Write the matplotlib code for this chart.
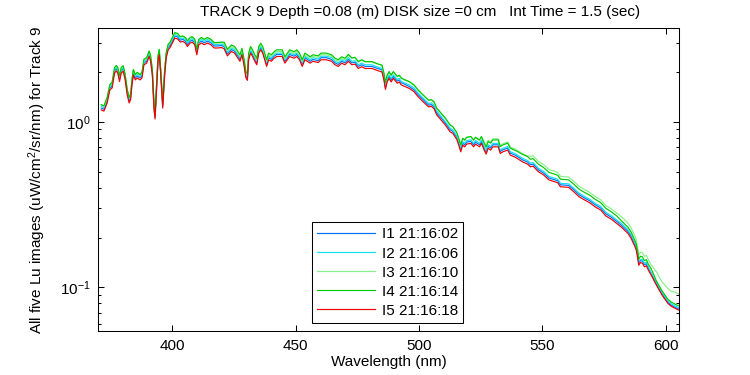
# -*- coding: utf-8 -*-

import matplotlib
matplotlib.use('Agg')
import matplotlib.pyplot as plt
from matplotlib.ticker import NullFormatter, LogLocator

plt.rcParams['font.family'] = ['Liberation Sans', 'DejaVu Sans']
plt.rcParams['mathtext.default'] = 'regular'

#---- wavelengths (nm) ----#
wl = [371.3, 372.4, 373.7, 374.8, 375.7, 376.7, 377.4, 378.0, 378.7, 379.4,
      380.2, 381.0, 381.8, 382.6, 383.2, 383.7, 384.3, 385.1, 385.9, 387.0,
      387.8, 388.6, 389.7, 390.7, 391.3, 392.0, 392.7, 393.1, 393.7, 394.3,
      394.8, 395.4, 396.2, 397.0, 397.6, 398.4, 399.2, 400.1, 401.1, 402.2,
      403.3, 404.3, 405.4, 406.2, 407.3, 408.1, 409.2, 410.0, 410.8, 411.9,
      413.0, 414.3, 415.7, 417.1, 418.4, 420.0, 421.1, 422.4, 424.0, 425.3,
      426.7, 427.5, 428.3, 429.1, 429.9, 430.5, 431.0, 431.8, 432.6, 433.5,
      434.3, 435.1, 435.9, 436.7, 437.5, 438.3, 439.1, 440.2, 441.3, 442.4,
      444.6, 445.7, 447.6, 449.4, 450.5, 451.6, 452.7, 453.8, 455.9, 457.0,
      459.2, 460.3, 462.4, 464.6, 466.0, 467.3, 468.7, 470.0, 471.4, 472.8,
      474.1, 475.4, 476.8, 478.2, 480.9, 483.6, 485.0, 485.8, 486.4, 487.1,
      487.9, 488.7, 489.6, 491.2, 492.0, 492.8, 494.4, 496.1, 498.0, 499.6,
      501.7, 503.9, 505.0, 506.1, 507.2, 509.1, 510.7, 512.6, 513.7, 515.3,
      516.1, 516.9, 517.7, 518.5, 519.3, 521.0, 522.1, 522.9, 524.5, 525.3,
      526.4, 527.2, 528.0, 529.0, 529.9, 532.1, 532.9, 534.0, 535.9, 537.0,
      539.1, 541.9, 544.0, 545.1, 546.2, 548.4, 550.5, 552.7, 555.1, 556.2,
      557.3, 560.6, 562.7, 564.9, 567.1, 569.2, 571.4, 573.6, 575.7, 577.9,
      580.1, 582.0, 584.6, 585.9, 587.2, 587.9, 588.6, 589.0, 589.7, 590.5,
      591.3, 592.1, 592.9, 594.0, 596.2, 598.4, 600.8, 602.1, 603.5, 605.1]

#---- Lu for the five images ----#
lu1 = [1.21, 1.19, 1.34, 1.60, 1.64, 2.03, 2.09, 2.03, 1.80, 2.03,
       2.08, 1.84, 1.50, 1.34, 1.40, 1.69, 1.97, 1.84, 1.89, 1.84,
       1.89, 2.27, 2.32, 2.55, 2.38, 1.97, 1.21, 1.07, 1.60, 2.38,
       2.61, 1.97, 1.24, 1.97, 2.49, 2.80, 2.89, 3.07, 3.29, 3.26,
       3.11, 3.15, 3.07, 2.93, 3.07, 3.11, 3.00, 2.61, 3.00, 3.07,
       3.00, 3.07, 3.00, 2.87, 2.87, 2.89, 2.84, 2.57, 2.73, 2.67,
       2.49, 2.38, 2.61, 2.27, 1.89, 1.83, 2.44, 2.67, 2.55, 2.38,
       2.27, 2.67, 2.80, 2.67, 2.44, 2.22, 2.44, 2.38, 2.49, 2.55,
       2.55, 2.32, 2.55, 2.49, 2.55, 2.44, 2.22, 2.44, 2.32, 2.38,
       2.34, 2.44, 2.44, 2.38, 2.27, 2.22, 2.32, 2.27, 2.38, 2.27,
       2.29, 2.16, 2.21, 2.16, 2.16, 2.09, 2.06, 1.84, 1.61, 1.79,
       1.88, 1.79, 1.88, 1.76, 1.79, 1.72, 1.68, 1.63, 1.56, 1.46,
       1.36, 1.26, 1.27, 1.23, 1.13, 1.05, 0.982, 0.894, 0.875, 0.805,
       0.743, 0.677, 0.743, 0.726, 0.754, 0.762, 0.726, 0.754, 0.726, 0.762,
       0.694, 0.656, 0.710, 0.694, 0.726, 0.726, 0.662, 0.677, 0.694, 0.647,
       0.627, 0.589, 0.571, 0.550, 0.555, 0.513, 0.490, 0.457, 0.446, 0.440,
       0.416, 0.413, 0.389, 0.362, 0.346, 0.333, 0.315, 0.301, 0.278, 0.265,
       0.250, 0.237, 0.218, 0.204, 0.185, 0.175, 0.154, 0.140, 0.145, 0.144,
       0.137, 0.139, 0.131, 0.122, 0.104, 0.0913, 0.0811, 0.0781, 0.0761, 0.0740]

lu2 = [1.24, 1.22, 1.37, 1.64, 1.68, 2.07, 2.13, 2.07, 1.84, 2.07,
       2.12, 1.88, 1.53, 1.37, 1.43, 1.72, 2.02, 1.88, 1.93, 1.88,
       1.93, 2.32, 2.37, 2.60, 2.44, 2.02, 1.24, 1.09, 1.64, 2.44,
       2.67, 2.02, 1.27, 2.02, 2.54, 2.86, 2.95, 3.14, 3.36, 3.33,
       3.18, 3.21, 3.14, 2.99, 3.14, 3.18, 3.07, 2.67, 3.07, 3.14,
       3.07, 3.14, 3.07, 2.93, 2.93, 2.95, 2.90, 2.63, 2.79, 2.73,
       2.54, 2.44, 2.67, 2.32, 1.93, 1.87, 2.49, 2.73, 2.60, 2.44,
       2.32, 2.73, 2.86, 2.73, 2.49, 2.27, 2.49, 2.44, 2.54, 2.60,
       2.60, 2.37, 2.60, 2.54, 2.60, 2.49, 2.27, 2.49, 2.37, 2.44,
       2.39, 2.49, 2.49, 2.44, 2.32, 2.27, 2.37, 2.32, 2.44, 2.32,
       2.34, 2.21, 2.26, 2.21, 2.21, 2.13, 2.10, 1.88, 1.65, 1.83,
       1.92, 1.83, 1.92, 1.80, 1.83, 1.75, 1.71, 1.67, 1.60, 1.49,
       1.39, 1.29, 1.30, 1.26, 1.16, 1.07, 1.00, 0.914, 0.894, 0.822,
       0.759, 0.692, 0.759, 0.741, 0.770, 0.778, 0.741, 0.770, 0.741, 0.778,
       0.709, 0.670, 0.726, 0.709, 0.741, 0.741, 0.676, 0.692, 0.709, 0.660,
       0.641, 0.602, 0.583, 0.562, 0.567, 0.524, 0.501, 0.467, 0.456, 0.449,
       0.425, 0.422, 0.397, 0.370, 0.354, 0.340, 0.321, 0.308, 0.284, 0.271,
       0.255, 0.243, 0.223, 0.208, 0.189, 0.179, 0.158, 0.143, 0.148, 0.147,
       0.140, 0.142, 0.133, 0.123, 0.107, 0.0932, 0.0828, 0.0797, 0.0776, 0.0756]

lu3 = [1.26, 1.24, 1.39, 1.67, 1.72, 2.11, 2.18, 2.11, 1.88, 2.11,
       2.17, 1.92, 1.57, 1.39, 1.46, 1.76, 2.06, 1.92, 1.97, 1.92,
       1.97, 2.37, 2.42, 2.66, 2.49, 2.06, 1.26, 1.11, 1.67, 2.49,
       2.72, 2.06, 1.30, 2.06, 2.59, 2.92, 3.01, 3.21, 3.43, 3.40,
       3.25, 3.28, 3.21, 3.06, 3.21, 3.25, 3.13, 2.72, 3.13, 3.21,
       3.13, 3.21, 3.13, 2.99, 2.99, 3.01, 2.96, 2.68, 2.85, 2.79,
       2.59, 2.49, 2.72, 2.37, 1.97, 1.91, 2.54, 2.79, 2.66, 2.49,
       2.37, 2.79, 2.92, 2.79, 2.54, 2.32, 2.54, 2.49, 2.59, 2.66,
       2.66, 2.42, 2.66, 2.59, 2.66, 2.54, 2.32, 2.54, 2.42, 2.49,
       2.44, 2.54, 2.54, 2.49, 2.37, 2.32, 2.42, 2.37, 2.54, 2.42,
       2.44, 2.30, 2.35, 2.30, 2.30, 2.22, 2.19, 1.96, 1.72, 1.91,
       2.00, 1.91, 2.00, 1.87, 1.91, 1.83, 1.78, 1.74, 1.66, 1.55,
       1.45, 1.35, 1.36, 1.31, 1.20, 1.12, 1.05, 0.953, 0.932, 0.857,
       0.792, 0.722, 0.792, 0.773, 0.803, 0.811, 0.773, 0.803, 0.773, 0.811,
       0.756, 0.715, 0.774, 0.756, 0.791, 0.791, 0.721, 0.738, 0.756, 0.704,
       0.683, 0.642, 0.622, 0.618, 0.624, 0.576, 0.551, 0.514, 0.501, 0.494,
       0.468, 0.464, 0.437, 0.407, 0.389, 0.374, 0.353, 0.338, 0.312, 0.298,
       0.281, 0.267, 0.245, 0.229, 0.208, 0.196, 0.173, 0.157, 0.163, 0.162,
       0.154, 0.156, 0.147, 0.137, 0.124, 0.108, 0.0984, 0.0947, 0.0938, 0.0913]

lu4 = [1.27, 1.25, 1.40, 1.68, 1.73, 2.13, 2.19, 2.13, 1.89, 2.13,
       2.18, 1.93, 1.58, 1.40, 1.47, 1.77, 2.07, 1.93, 1.99, 1.93,
       1.99, 2.39, 2.44, 2.68, 2.51, 2.07, 1.27, 1.12, 1.68, 2.51,
       2.74, 2.07, 1.31, 2.07, 2.61, 2.94, 3.03, 3.23, 3.46, 3.42,
       3.27, 3.30, 3.23, 3.08, 3.23, 3.27, 3.15, 2.74, 3.15, 3.23,
       3.15, 3.23, 3.15, 3.01, 3.01, 3.03, 3.02, 2.74, 2.91, 2.85,
       2.65, 2.54, 2.78, 2.42, 2.01, 1.95, 2.60, 2.85, 2.72, 2.54,
       2.42, 2.85, 2.98, 2.85, 2.60, 2.37, 2.60, 2.54, 2.65, 2.72,
       2.72, 2.47, 2.72, 2.65, 2.72, 2.60, 2.37, 2.60, 2.47, 2.54,
       2.50, 2.60, 2.60, 2.54, 2.42, 2.37, 2.47, 2.42, 2.55, 2.43,
       2.45, 2.31, 2.37, 2.31, 2.31, 2.23, 2.20, 1.97, 1.73, 1.91,
       2.01, 1.91, 2.01, 1.88, 1.91, 1.84, 1.79, 1.75, 1.67, 1.56,
       1.45, 1.35, 1.36, 1.32, 1.21, 1.12, 1.05, 0.957, 0.936, 0.861,
       0.795, 0.725, 0.795, 0.777, 0.806, 0.815, 0.777, 0.806, 0.777, 0.815,
       0.743, 0.702, 0.760, 0.743, 0.777, 0.777, 0.708, 0.725, 0.743, 0.692,
       0.671, 0.636, 0.616, 0.594, 0.599, 0.554, 0.529, 0.494, 0.482, 0.475,
       0.450, 0.446, 0.420, 0.391, 0.374, 0.360, 0.340, 0.325, 0.300, 0.286,
       0.270, 0.252, 0.231, 0.216, 0.196, 0.185, 0.164, 0.148, 0.154, 0.153,
       0.145, 0.147, 0.138, 0.130, 0.109, 0.0954, 0.0848, 0.0816, 0.0795, 0.0774]

lu5 = [1.18, 1.16, 1.30, 1.56, 1.60, 1.97, 2.03, 1.97, 1.75, 1.97,
       2.02, 1.79, 1.46, 1.30, 1.36, 1.64, 1.92, 1.79, 1.84, 1.79,
       1.84, 2.21, 2.26, 2.48, 2.32, 1.92, 1.18, 1.04, 1.56, 2.32,
       2.54, 1.92, 1.21, 1.92, 2.42, 2.72, 2.81, 2.99, 3.20, 3.17,
       3.03, 3.06, 2.99, 2.85, 2.99, 3.03, 2.92, 2.54, 2.92, 2.99,
       2.92, 2.99, 2.92, 2.79, 2.79, 2.81, 2.76, 2.50, 2.66, 2.60,
       2.42, 2.32, 2.54, 2.21, 1.84, 1.78, 2.37, 2.60, 2.48, 2.32,
       2.21, 2.60, 2.72, 2.60, 2.37, 2.16, 2.37, 2.32, 2.42, 2.48,
       2.48, 2.26, 2.48, 2.42, 2.48, 2.37, 2.16, 2.37, 2.26, 2.32,
       2.28, 2.37, 2.37, 2.32, 2.21, 2.16, 2.26, 2.21, 2.32, 2.21,
       2.23, 2.10, 2.15, 2.10, 2.10, 2.03, 2.00, 1.79, 1.57, 1.74,
       1.83, 1.74, 1.83, 1.71, 1.74, 1.67, 1.63, 1.59, 1.52, 1.42,
       1.32, 1.23, 1.24, 1.20, 1.10, 1.02, 0.955, 0.870, 0.851, 0.783,
       0.723, 0.659, 0.723, 0.706, 0.733, 0.741, 0.706, 0.733, 0.706, 0.741,
       0.675, 0.638, 0.691, 0.675, 0.706, 0.706, 0.644, 0.659, 0.675, 0.629,
       0.610, 0.573, 0.555, 0.535, 0.540, 0.499, 0.477, 0.445, 0.434, 0.428,
       0.405, 0.402, 0.378, 0.352, 0.337, 0.324, 0.306, 0.293, 0.270, 0.258,
       0.243, 0.231, 0.212, 0.198, 0.180, 0.170, 0.150, 0.136, 0.141, 0.140,
       0.133, 0.135, 0.127, 0.119, 0.103, 0.090, 0.080, 0.077, 0.075, 0.073]

labels = ['I1 21:16:02', 'I2 21:16:06', 'I3 21:16:10', 'I4 21:16:14', 'I5 21:16:18']
colors = ['#0072ff', '#10e0f0', '#88f088', '#00c800', '#ee0000']

fig = plt.figure(figsize=(7.5, 3.75), dpi=100)
ax = fig.add_axes([0.1307, 0.1173, 0.7746, 0.8088])

for lu, lab, col in zip([lu1, lu2, lu3, lu4, lu5], labels, colors):
    ax.plot(wl, lu, color=col, linewidth=0.85, label=lab)

ax.set_yscale('log')
ax.set_xlim(370, 605.3)
ax.set_ylim(0.0545, 3.7)
ax.set_xticks([400, 450, 500, 550, 600])
ax.yaxis.set_major_locator(LogLocator(base=10, numticks=10))
ax.yaxis.set_minor_locator(LogLocator(base=10, subs=range(2, 10), numticks=20))
ax.yaxis.set_minor_formatter(NullFormatter())

ax.tick_params(axis='both', which='both', direction='in', top=True, right=True,
               labelsize=11, width=0.75)
ax.tick_params(axis='both', which='major', length=4)
ax.tick_params(axis='y', which='minor', length=2.5)
ax.tick_params(axis='x', pad=6)
ax.tick_params(axis='y', pad=5)
for s in ax.spines.values():
    s.set_linewidth(0.75)

ax.set_xlabel('Wavelength (nm)', fontsize=11, labelpad=1)
ax.set_ylabel('All five Lu images (uW/cm$^2$/sr/nm) for Track 9', fontsize=11)
ax.yaxis.set_label_coords(-0.086, 0.5)

fig.text(0.56, 0.968, 'TRACK 9 Depth =0.08 (m) DISK size =0 cm   Int Time = 1.5 (sec)',
         ha='center', va='center', fontsize=11)

leg = ax.legend(loc='lower left', bbox_to_anchor=(312 / 750., 1 - 323 / 375.),
                bbox_transform=fig.transFigure, fontsize=11, handlelength=3.8,
                handletextpad=0.4, labelspacing=0.33, borderpad=0.35,
                borderaxespad=0, fancybox=False, framealpha=1)
leg.get_frame().set_edgecolor('black')
leg.get_frame().set_linewidth(0.75)

plt.savefig('out.png', dpi=100)
